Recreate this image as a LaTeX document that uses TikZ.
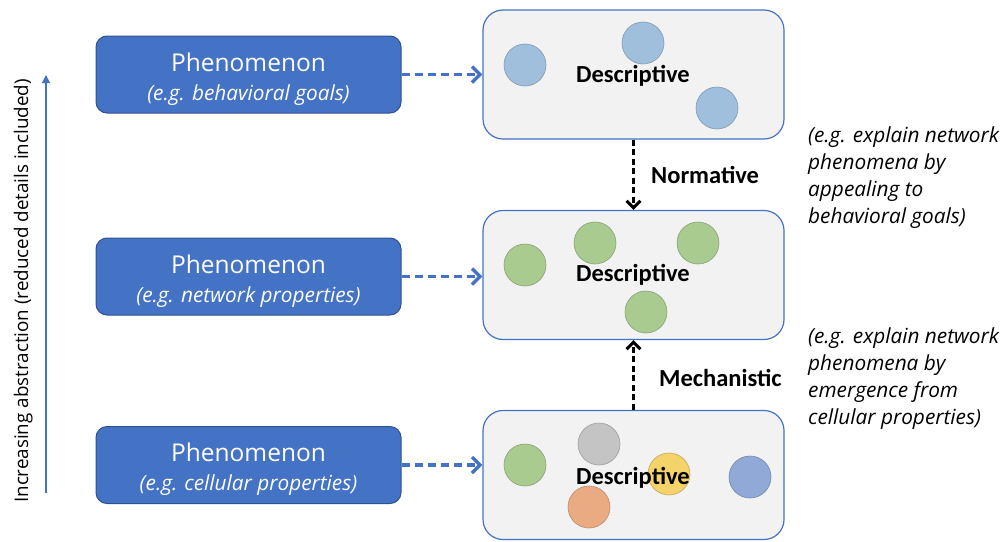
\documentclass[tikz,border=0pt]{standalone}
\usepackage{fontspec}
\setmainfont{Open Sans}
\newfontfamily\calfont{Carlito}
\usetikzlibrary{arrows.meta}
\definecolor{phfill}{HTML}{4472C4}
\definecolor{phdraw}{HTML}{2F528F}
\definecolor{dsfill}{HTML}{F2F2F2}
\definecolor{dsdraw}{HTML}{4472C4}
\definecolor{cblue}{HTML}{A0BFDD}
\definecolor{cgreen}{HTML}{A9CB90}
\definecolor{cgrey}{HTML}{C4C4C4}
\definecolor{cyellow}{HTML}{F5D36B}
\definecolor{corange}{HTML}{EBAB82}
\definecolor{cdblue}{HTML}{91A9D6}
\tikzset{
  phbox/.style={draw=phdraw, line width=1pt, fill=phfill, rounded corners=11pt,
    minimum width=305pt, minimum height=77pt, inner sep=0pt},
  phtitle/.style={text=white, anchor=base, inner sep=0pt, font=\fontsize{24.5}{29}\selectfont},
  phsub/.style={text=white, anchor=base, inner sep=0pt, font=\itshape\fontsize{20.8}{25}\selectfont},
  dsbox/.style={draw=dsdraw, line width=1.2pt, fill=dsfill, rounded corners=20pt,
    minimum width=301pt, minimum height=129pt, inner sep=0pt},
  dlabel/.style={font=\calfont\bfseries\fontsize{24.5}{28}\selectfont, inner sep=0pt},
  cell/.style={circle, minimum size=42pt, inner sep=0pt, line width=0.6pt},
  bluedash/.style={draw=phfill, line width=3.6pt, dash pattern=on 8pt off 5pt,
    -{Straight Barb[length=8pt,width=16pt,line width=3.4pt]}},
  blackdash/.style={draw=black, line width=3.6pt, dash pattern=on 6pt off 3.5pt,
    -{Straight Barb[length=7pt,width=14pt,line width=3pt]}},
  note/.style={font=\itshape\fontsize{20.8}{27}\selectfont, align=left, anchor=north west, inner sep=0pt},
}
\begin{document}
\begin{tikzpicture}[x=1pt,y=-1pt]
\useasboundingbox (0,0) rectangle (1007,541);
% left axis
\coordinate (a0) at (46,493);
\coordinate (a1) at (46,75);
\draw[draw=phfill, line width=1.2pt, -{Triangle[length=8pt,width=8pt]}] (a0) -- (a1);
\node[rotate=90, anchor=base, font=\fontsize{18.8}{22}\selectfont, inner sep=0pt] (axis) at (28,291) {Increasing abstraction (reduced details included)};
% phenomenon boxes
\node[phbox] (p1) at (248.5,74.5) {};
\node[phtitle] (p1t) at (248.5,71.7) {Phenomenon};
\node[phsub] (p1s) at (248.5,100) {(e.g. behavioral goals)};
\node[phbox] (p2) at (248.5,276.5) {};
\node[phtitle] (p2t) at (248.5,273.7) {Phenomenon};
\node[phsub] (p2s) at (248.5,302) {(e.g. network properties)};
\node[phbox] (p3) at (248.5,465) {};
\node[phtitle] (p3t) at (248.5,461.5) {Phenomenon};
\node[phsub] (p3s) at (248.5,490) {(e.g. cellular properties)};
% descriptive boxes
\node[dsbox] (d1) at (633.5,74.5) {};
\node[dsbox] (d2) at (633.5,275) {};
\node[dsbox] (d3) at (633.5,475) {};
% circles top
\node[cell, fill=cblue, draw=cblue!80!black] (c11) at (525,65) {};
\node[cell, fill=cblue, draw=cblue!80!black] (c12) at (643,43) {};
\node[cell, fill=cblue, draw=cblue!80!black] (c13) at (717,108) {};
\node[dlabel] (t1) at (633,76) {Descriptive};
% circles middle
\node[cell, fill=cgreen, draw=cgreen!80!black] (c21) at (525,265) {};
\node[cell, fill=cgreen, draw=cgreen!80!black] (c22) at (595,243) {};
\node[cell, fill=cgreen, draw=cgreen!80!black] (c23) at (698,243) {};
\node[cell, fill=cgreen, draw=cgreen!80!black] (c24) at (646,312) {};
\node[dlabel] (t2) at (633,275) {Descriptive};
% circles bottom
\node[cell, fill=cgreen, draw=cgreen!80!black] (c31) at (525,465) {};
\node[cell, fill=cgrey, draw=cgrey!80!black] (c32) at (599,444) {};
\node[cell, fill=cyellow, draw=cyellow!80!black] (c33) at (669,474) {};
\node[cell, fill=cdblue, draw=cdblue!80!black] (c34) at (750,477) {};
\node[cell, fill=corange, draw=corange!80!black] (c35) at (589,507) {};
\node[dlabel] (t3) at (633,478) {Descriptive};
% blue dashed connectors
\draw[bluedash] (p1.east) -- (p1.east -| d1.west);
\draw[bluedash] (p2.east) -- (p2.east -| d2.west);
\draw[bluedash] (p3.east) -- (p3.east -| d3.west);
% black dashed connectors
\draw[blackdash] (d1.south) -- (d2.north);
\draw[blackdash] (d3.north) -- (d2.south);
\node[dlabel, anchor=west] (nlab) at (651,175) {Normative};
\node[dlabel, anchor=west] (mlab) at (659,378) {Mechanistic};
% notes
\node[note] (n1) at (808,126) {(e.g. explain network\\phenomena by\\appealing to\\behavioral goals)};
\node[note] (n2) at (808,327) {(e.g. explain network\\phenomena by\\emergence from\\cellular properties)};
\end{tikzpicture}
\end{document}
